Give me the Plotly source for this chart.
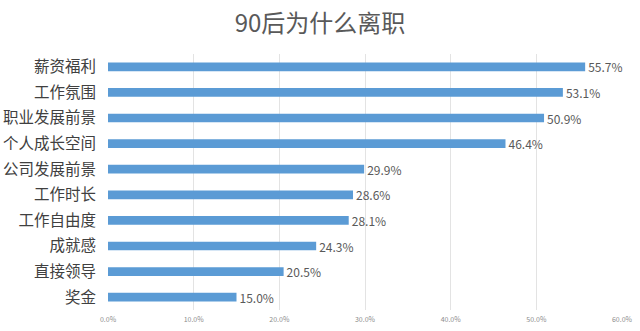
import plotly.graph_objects as go

categories = ["薪资福利", "工作氛围", "职业发展前景", "个人成长空间", "公司发展前景",
              "工作时长", "工作自由度", "成就感", "直接领导", "奖金"]
values = [55.7, 53.1, 50.9, 46.4, 29.9, 28.6, 28.1, 24.3, 20.5, 15.0]
tick_vals = [0, 10, 20, 30, 40, 50, 60]
tick_text = ["0.0%", "10.0%", "20.0%", "30.0%", "40.0%", "50.0%", "60.0%"]

font = "Noto Sans CJK SC"

fig = go.Figure(go.Bar(
    x=values, y=categories, orientation="h",
    marker=dict(color="#5B9BD5", line=dict(width=0)),
    text=[f"{v:.1f}%" for v in values], textposition="outside",
    textfont=dict(family=font, size=12, color="#595959"),
    constraintext="none",
    cliponaxis=False,
))

fig.update_layout(
    width=640, height=331,
    margin=dict(l=108, r=18, t=54, b=21),
    paper_bgcolor="white", plot_bgcolor="white",
    title=dict(text="90后为什么离职", x=0.5, xanchor="center", y=0.93, yanchor="middle",
               font=dict(family=font, size=24, color="#595959")),
    bargap=0.66,
    showlegend=False,
    xaxis=dict(range=[0, 60], tickvals=tick_vals, ticktext=tick_text, automargin=False,
               showgrid=True, gridcolor="#E3E3E3", gridwidth=1, zeroline=False,
               ticklabelstandoff=4,
               showline=False, ticks="", tickfont=dict(family=font, size=7, color="#8C8C8C")),
    yaxis=dict(autorange="reversed", showgrid=False, showline=False, ticks="", automargin=False,
               ticklabelstandoff=11,
               tickfont=dict(family=font, size=15.5, color="#404040")),
)

fig.write_html("out.html")
